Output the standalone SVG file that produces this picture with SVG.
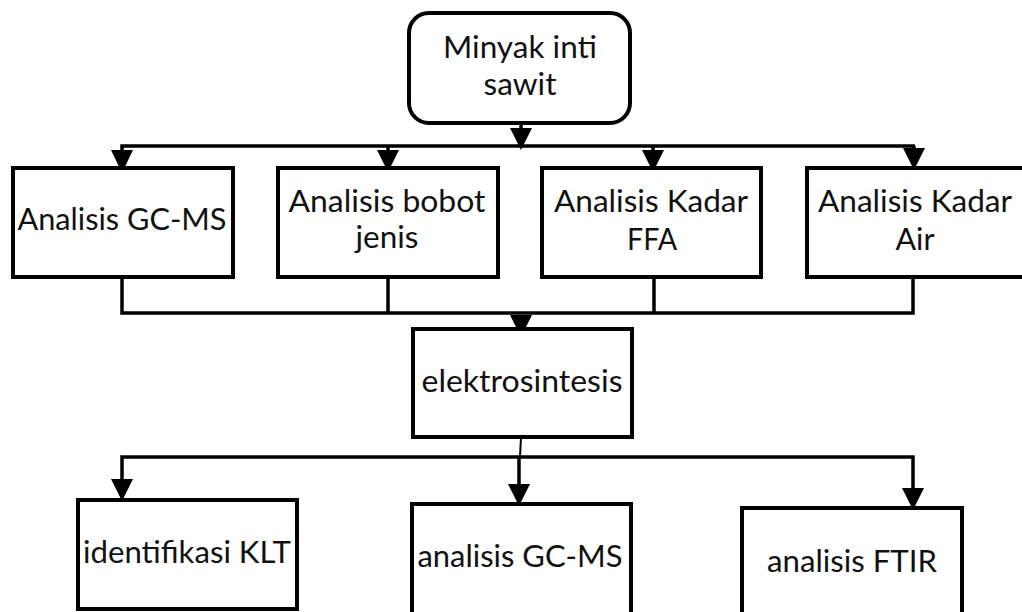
<svg xmlns="http://www.w3.org/2000/svg" width="1022" height="612" viewBox="0 0 1022 612">
<style>
.box{fill:#fff;stroke:#000;stroke-width:4}
.ln{fill:none;stroke:#000;stroke-width:3.5}
.thin{fill:none;stroke:#000;stroke-width:2}
.ah{fill:#000}
text{font-family:Lato,"Open Sans",sans-serif;font-size:31px;fill:#111;text-anchor:middle}
</style>
<rect width="1022" height="612" fill="#fff"/>
<g id="connectors">
<line class="ln" x1="521" y1="123" x2="521" y2="140"/>
<polyline class="ln" points="122,165 122,146 915,146"/>
<line class="ln" x1="388" y1="146" x2="388" y2="165"/>
<line class="ln" x1="653" y1="146" x2="653" y2="165"/>
<line class="ln" x1="914" y1="146" x2="914" y2="165"/>
<polyline class="ln" points="122,277 122,313 913,313 913,277"/>
<line class="ln" x1="388" y1="277" x2="388" y2="313"/>
<line class="ln" x1="654" y1="277" x2="654" y2="313"/>
<line class="thin" x1="521" y1="437" x2="520" y2="457"/>
<polyline class="ln" points="122,490 122,457 913,457 913,500"/>
<line class="ln" x1="519" y1="457" x2="519" y2="495"/>
<path class="ah" d="M510,128 L532,128 L521,150 Z"/>
<path class="ah" d="M111,150 L133,150 L122,173 Z"/>
<path class="ah" d="M377,150 L399,150 L388,172 Z"/>
<path class="ah" d="M642,150 L664,150 L653,172 Z"/>
<path class="ah" d="M903,148 L925,148 L914,170 Z"/>
<path class="ah" d="M510,315 L532,315 L521,337 Z"/>
<path class="ah" d="M111,479 L133,479 L122,501 Z"/>
<path class="ah" d="M508,484 L530,484 L519,506 Z"/>
<path class="ah" d="M902,488 L924,488 L913,510 Z"/>
</g>
<g id="n-minyak">
<rect class="box" x="409" y="13" width="221" height="110" rx="20"/>
<text x="520" y="58" textLength="154" lengthAdjust="spacingAndGlyphs">Minyak inti</text>
<text x="520" y="95" textLength="73" lengthAdjust="spacingAndGlyphs">sawit</text>
</g>
<g id="n-gcms1">
<rect class="box" x="13" y="168" width="220" height="109"/>
<text x="122" y="230" textLength="209" lengthAdjust="spacingAndGlyphs">Analisis GC-MS</text>
</g>
<g id="n-bobot">
<rect class="box" x="278" y="168" width="220" height="109"/>
<text x="387" y="212" textLength="197" lengthAdjust="spacingAndGlyphs">Analisis bobot</text>
<text x="387" y="248" textLength="63" lengthAdjust="spacingAndGlyphs">jenis</text>
</g>
<g id="n-ffa">
<rect class="box" x="542" y="168" width="219" height="109"/>
<text x="651" y="212" textLength="194" lengthAdjust="spacingAndGlyphs">Analisis Kadar</text>
<text x="652" y="250" textLength="50" lengthAdjust="spacingAndGlyphs">FFA</text>
</g>
<g id="n-air">
<rect class="box" x="807" y="168" width="230" height="109"/>
<text x="915" y="212" textLength="194" lengthAdjust="spacingAndGlyphs">Analisis Kadar</text>
<text x="915" y="250" textLength="39" lengthAdjust="spacingAndGlyphs">Air</text>
</g>
<g id="n-elektro">
<rect class="box" x="413" y="329" width="219" height="108"/>
<text x="522" y="392" textLength="201" lengthAdjust="spacingAndGlyphs">elektrosintesis</text>
</g>
<g id="n-klt">
<rect class="box" x="78" y="500" width="219" height="109"/>
<text x="187" y="563" textLength="208" lengthAdjust="spacingAndGlyphs">identifikasi KLT</text>
</g>
<g id="n-gcms2">
<rect class="box" x="412" y="504" width="219" height="120"/>
<text x="520" y="567" textLength="205" lengthAdjust="spacingAndGlyphs">analisis GC-MS</text>
</g>
<g id="n-ftir">
<rect class="box" x="742" y="508" width="220" height="120"/>
<text x="852" y="572" textLength="170" lengthAdjust="spacingAndGlyphs">analisis FTIR</text>
</g>
</svg>
